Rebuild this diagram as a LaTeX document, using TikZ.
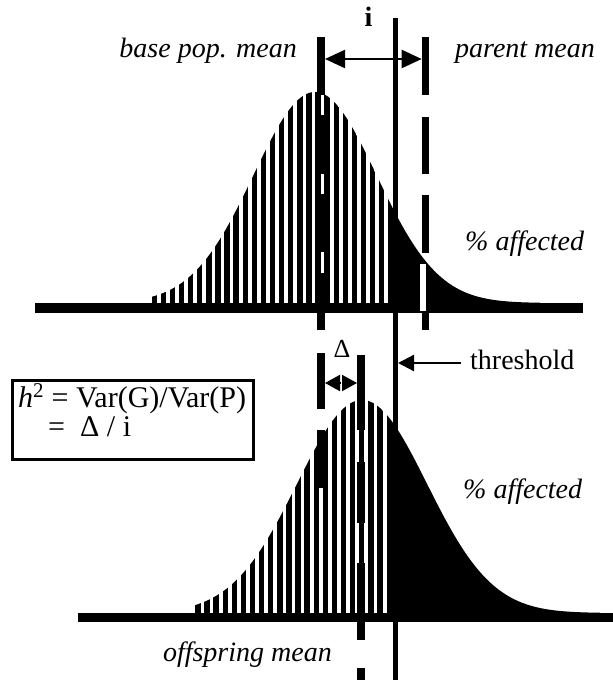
\documentclass[tikz,border=0pt]{standalone}
\usepackage{fontspec}
\setmainfont{Liberation Serif}
\usetikzlibrary{arrows.meta}
\begin{document}
\begin{tikzpicture}[x=1pt,y=-1pt,
  lbl/.style={inner sep=0pt, font=\fontsize{28}{30}\selectfont\itshape},
  plain/.style={inner sep=0pt, font=\fontsize{28}{30}\selectfont},
  boxtxt/.style={inner sep=0pt, font=\fontsize{30}{32}\selectfont},
  meanline/.style={line width=7.6pt},
  offline/.style={line width=8.4pt},
  thline/.style={line width=5pt},
  iarrow/.style={line width=2.3pt, {Triangle[length=20pt,width=18pt]}-{Triangle[length=20pt,width=18pt]}},
  darrow/.style={line width=2pt, -{Triangle[length=15pt,width=16pt]}},
  tarrow/.style={line width=2.2pt, -{Triangle[length=16pt,width=16pt]}},
  formbox/.style={draw, line width=2.6pt, inner sep=0pt}
]
\useasboundingbox (0,0) rectangle (613,680);

% ---------- top distribution ----------
\begin{scope}
  \clip (130,306) -- plot[domain=130:540,samples=220] (\x,{303-211*exp(-0.5*((\x-315)/61.5)*((\x-315)/61.5))}) -- (540,306) -- cycle;
  \foreach \k in {0,...,25} \fill ({151.5+9.1*\k},80) rectangle ({156.9+9.1*\k},306);
  \fill (388,80) rectangle (540,306);
\end{scope}
\fill (35,303) rectangle (583,313);

% ---------- bottom distribution ----------
\begin{scope}
  \clip (170,616) -- plot[domain=170:600,samples=220] (\x,{613-213*exp(-0.5*((\x-362)/65)*((\x-362)/65))}) -- (600,616) -- cycle;
  \foreach \k in {-18,...,2} \fill ({359+9.1*\k},390) rectangle ({364.4+9.1*\k},616);
  \fill (387,390) rectangle (600,616);
\end{scope}
\fill (78,613) rectangle (613,622);

% ---------- threshold line ----------
\draw[thline] (395.5,18) -- (395.5,680);

% ---------- base population mean (top) ----------
\foreach \a/\b in {37/95,115/174,194/252,273/330}
  \draw[meanline] (321.2,\a) -- (321.2,\b);

% ---------- parent mean ----------
\foreach \a/\b in {37/95,117/174,195/253,313/330}
  \draw[meanline] (425.5,\a) -- (425.5,\b);
\fill[white] (419.5,264) rectangle (426,311);

% ---------- base mean (bottom) ----------
\foreach \a/\b in {353/409,430/488}
  \draw[meanline] (321.2,\a) -- (321.2,\b);

% ---------- offspring mean ----------
\foreach \a/\b in {355/430,462/523,563/640,668/680}
  \draw[offline] (361.2,\a) -- (361.2,\b);

% ---------- arrows ----------
\coordinate (iL) at (325,59);
\coordinate (iR) at (421.7,59);
\draw[iarrow] (iL) -- (iR);

\coordinate (dC1) at (341,383);
\coordinate (dC2) at (342,383);
\coordinate (dL) at (325,383);
\coordinate (dR) at (357,383);
\draw[darrow] (dC1) -- (dL);
\draw[darrow] (dC2) -- (dR);

\coordinate (thTail) at (461,363);
\coordinate (thTip) at (398,363);
\draw[tarrow] (thTail) -- (thTip);

% ---------- labels ----------
\node[plain, anchor=base] (ilab) at (368.5,27) {\textbf{i}};
\node[lbl, anchor=base east] (bpm) at (297,57) {base pop. mean};
\node[lbl, anchor=base west] (pm) at (455,57) {parent mean};
\node[lbl, anchor=base west] (aff1) at (465,250) {\% affected};
\node[lbl, anchor=base west] (aff2) at (463,498) {\% affected};
\node[plain, anchor=base west] (thr) at (470,369) {threshold};
\node[inner sep=0pt, font=\fontsize{26}{28}\selectfont, anchor=base] (dlab) at (342,357) {Δ};
\node[lbl, anchor=base east] (om) at (332,661) {offspring mean};

% ---------- formula box ----------
\node[formbox, anchor=north west, minimum width=241pt, minimum height=79pt] (box) at (11,379) {};
\node[boxtxt, anchor=base west] (f1) at (18,407) {\textit{h}\textsuperscript{2} = Var(G)/Var(P)};
\node[boxtxt, anchor=base west] (f2) at (48,436) {=\ \ Δ / i};
\end{tikzpicture}
\end{document}
